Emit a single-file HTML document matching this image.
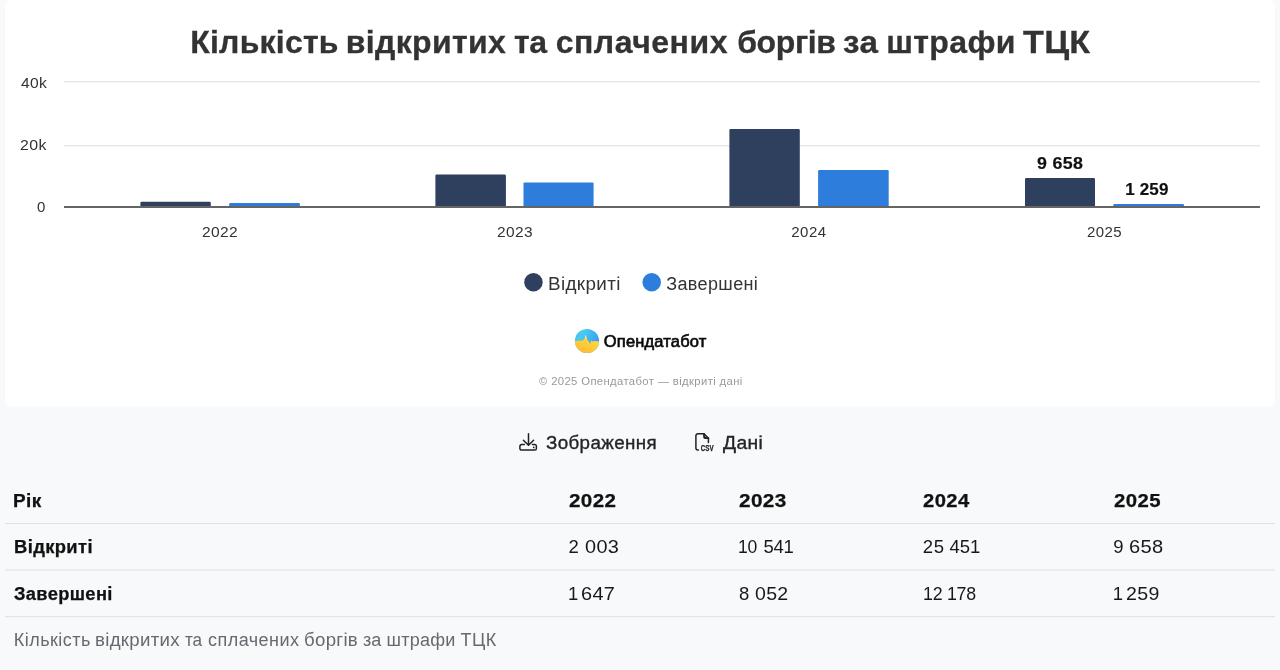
<!DOCTYPE html>
<html lang="uk">
<head>
<meta charset="utf-8">
<title>Кількість відкритих та сплачених боргів за штрафи ТЦК</title>
<style>
*{box-sizing:border-box;margin:0;padding:0}
html,body{width:1280px;height:670px;overflow:hidden}
body{background:#f8f9fa;font-family:"Liberation Sans",Arial,sans-serif;color:#222;position:relative}
.side{position:absolute;top:0;height:401px;width:7px;background:#f9f9f9}
.card{position:absolute;left:5px;top:0;width:1270px;height:407px;background:#fff;border-radius:6px;border-bottom:1px solid #fbfcfd}
.t{position:absolute;white-space:nowrap;line-height:1}
.ws{width:1280px;height:1em}
.ws span{position:absolute;top:0}
.title{font-size:32px;font-weight:700;color:#333;-webkit-text-stroke:0.3px #333}
.grid{position:absolute;left:64px;width:1196px;height:2px;background:linear-gradient(#e7e7e7 0 50%,#f4f4f4 50% 100%)}
.axis{position:absolute;left:64px;width:1196px;height:2px;background:#656565;top:206px}
.yl,.xl{font-size:15px;color:#333}
.bar{position:absolute;border-radius:1.5px 1.5px 0 0}
.d{background:#2f3f5e}
.b{background:#2d7edc}
.dl{font-size:17px;font-weight:700;color:#111;-webkit-text-stroke:0.2px #111}
.lg{font-size:18px;color:#333}
.dot{position:absolute;width:18px;height:18px;border-radius:50%}
.brand{font-size:16.5px;font-weight:400;color:#0a0a0a;-webkit-text-stroke:0.65px #0a0a0a}
.copy{font-size:11px;color:#999}
.btn{font-size:18px;color:#212529;-webkit-text-stroke:0.35px #212529}
.th{font-size:18px;font-weight:700;color:#111;-webkit-text-stroke:0.25px #111}
.td{font-size:18.5px;color:#16181b}
.hr{position:absolute;left:5px;width:1270px;height:1px;background:#dee1e5}
.hr2{position:absolute;left:5px;width:1270px;height:2px}
.cap{font-size:18px;color:#646a70}
svg{position:absolute;overflow:visible}
</style>
</head>
<body>
<div class="side" style="left:0"></div>
<div class="side" style="right:0"></div>
<div class="card"></div>

<div class="grid" style="top:81px"></div>
<div class="grid" style="top:145px"></div>

<svg width="1280" height="210" viewBox="0 0 1280 210" style="left:0;top:0">
<path fill="#2f3f5e" d="M140.4 207 V203.0 A1.2 1.2 0 0 1 141.6 201.8 H209.6 A1.2 1.2 0 0 1 210.8 203.0 V207 Z"/>
<path fill="#2d7edc" d="M229.2 207 V204.2 A1.2 1.2 0 0 1 230.4 203.0 H298.7 A1.2 1.2 0 0 1 299.9 204.2 V207 Z"/>
<path fill="#2f3f5e" d="M435.4 207 V175.7 A1.2 1.2 0 0 1 436.6 174.5 H504.7 A1.2 1.2 0 0 1 505.9 175.7 V207 Z"/>
<path fill="#2d7edc" d="M523.5 207 V183.6 A1.2 1.2 0 0 1 524.7 182.4 H592.4 A1.2 1.2 0 0 1 593.6 183.6 V207 Z"/>
<path fill="#2f3f5e" d="M729.4 207 V130.1 A1.2 1.2 0 0 1 730.6 128.9 H798.6 A1.2 1.2 0 0 1 799.8 130.1 V207 Z"/>
<path fill="#2d7edc" d="M818.1 207 V171.2 A1.2 1.2 0 0 1 819.3 170.0 H887.5 A1.2 1.2 0 0 1 888.7 171.2 V207 Z"/>
<path fill="#2f3f5e" d="M1025.0 207 V179.1 A1.2 1.2 0 0 1 1026.2 177.9 H1093.8 A1.2 1.2 0 0 1 1095.0 179.1 V207 Z"/>
<path fill="#2d7edc" d="M1113.3 207 V205.2 A1.2 1.2 0 0 1 1114.5 204.0 H1182.8 A1.2 1.2 0 0 1 1184.0 205.2 V207 Z"/>
</svg>
<div class="axis"></div>

<svg width="160" height="24" viewBox="0 0 160 24" style="left:520px;top:270px"><circle cx="13.45" cy="12.3" r="9.25" fill="#2f3f5e"/><circle cx="131.7" cy="12.3" r="9.25" fill="#2d7edc"/></svg>

<svg width="26" height="26" viewBox="0 0 26 26" style="left:574.2px;top:327.6px">
  <defs>
    <clipPath id="lc"><circle cx="13" cy="13" r="12.1"/></clipPath>
    <linearGradient id="sky" x1="0" y1="0" x2="1" y2="0.5"><stop offset="0" stop-color="#3fb6f2"/><stop offset="0.35" stop-color="#46ccf2"/><stop offset="1" stop-color="#3a98f0"/></linearGradient>
    <linearGradient id="sun" x1="0.2" y1="1" x2="0.8" y2="0"><stop offset="0" stop-color="#ffb534"/><stop offset="0.6" stop-color="#ffd038"/><stop offset="1" stop-color="#ffe24a"/></linearGradient>
    <linearGradient id="tip" x1="0" y1="0" x2="0" y2="1"><stop offset="0" stop-color="#fff6c8"/><stop offset="1" stop-color="#ffd038"/></linearGradient>
  </defs>
  <g clip-path="url(#lc)">
    <rect width="26" height="26" fill="url(#sky)"/>
    <path d="M0 12.7 L8.4 12.7 L9.5 11.4 L10.3 12 L11.6 6.8 L13 11.6 L14.2 12.6 L16 15.8 L17.4 12.6 L19 13.6 L21 13 L26 13.4 L26 26 L0 26 Z" fill="url(#sun)"/>
    <path d="M10.3 12 L11.6 6.8 L13 11.6 Z" fill="url(#tip)"/>
  </g>
</svg>

<svg width="20" height="20" viewBox="0 0 20 20" style="left:518px;top:432px" fill="none" stroke="#222" stroke-width="1.5" stroke-linecap="round" stroke-linejoin="round">
  <path d="M10.5 1.7 V13 M5.4 8.2 L10.5 13.3 L15.6 8.2"/>
  <path d="M6.3 12.6 H3.6 A1.7 1.7 0 0 0 1.9 14.3 V16.4 A1.7 1.7 0 0 0 3.6 18.1 H16.7 A1.7 1.7 0 0 0 18.4 16.4 V14.3 A1.7 1.7 0 0 0 16.7 12.6 H14.4"/>
  <circle cx="15.7" cy="15.4" r="0.85" fill="#222" stroke="none"/>
</svg>

<svg width="22" height="20" viewBox="0 0 22 20" style="left:694px;top:432px" fill="none" stroke="#222" stroke-width="1.5" stroke-linecap="round" stroke-linejoin="round">
  <path d="M4.4 18 H3.9 A2 2 0 0 1 1.9 16 V3.8 A2 2 0 0 1 3.9 1.8 H10 L14.4 6.2 V10.6"/>
  <path d="M10 1.8 V4.9 A1.3 1.3 0 0 0 11.3 6.2 H14.4" stroke-width="1.7"/><path d="M10 3.2 V4.9 A1.3 1.3 0 0 0 11.3 6.2 H13 Z" fill="#222" stroke="none"/>
  <text x="6.8" y="18.75" font-family="Liberation Sans, Arial, sans-serif" font-size="8.3" font-weight="700" fill="#222" stroke="#222" stroke-width="0.25" textLength="12.8" lengthAdjust="spacingAndGlyphs">CSV</text>
</svg>

<div class="hr" style="top:523px"></div>
<div class="hr2" style="top:569px;background:#ebecef"></div>
<div class="hr2" style="top:616px;background:linear-gradient(#e3e4e7 0 50%,#f1f2f4 50% 100%)"></div>

<div class="t ws title" style="left:0;top:26.01px;"><span style="left:190.25px;letter-spacing:0.219px;">Кількість</span> <span style="left:345.85px;letter-spacing:0.344px;">відкритих</span> <span style="left:514.00px;letter-spacing:-0.450px;">та</span> <span style="left:555.65px;letter-spacing:0.525px;">сплачених</span> <span style="left:737.25px;letter-spacing:-0.400px;">боргів</span> <span style="left:843.32px;letter-spacing:0.300px;transform:scaleX(1.0378);transform-origin:0 0;">за</span> <span style="left:886.15px;letter-spacing:0.400px;">штрафи</span> <span style="left:1022.53px;letter-spacing:0.300px;transform:scaleX(1.0652);transform-origin:0 0;">ТЦК</span></div>
<div class="t ws cap" style="left:0;top:631.36px;"><span style="left:13.75px;letter-spacing:0.469px;">Кількість</span> <span style="left:94.71px;letter-spacing:0.300px;transform:scaleX(1.0356);transform-origin:0 0;">відкритих</span> <span style="left:185.36px;letter-spacing:-0.300px;transform:scaleX(0.9542);transform-origin:0 0;">та</span> <span style="left:208.00px;letter-spacing:0.469px;">сплачених</span> <span style="left:304.22px;letter-spacing:0.300px;transform:scaleX(1.0348);transform-origin:0 0;">боргів</span> <span style="left:363.00px;">за</span> <span style="left:386.50px;letter-spacing:0.250px;">штрафи</span> <span style="left:460.50px;letter-spacing:0.450px;">ТЦК</span></div>
<div class="t ws td" style="left:0;top:538.04px;"><span style="left:568.60px;">2</span> <span style="left:584.69px;letter-spacing:0.300px;transform:scaleX(1.0754);transform-origin:0 0;">003</span></div>
<div class="t ws td" style="left:0;top:538.04px;"><span style="left:738.37px;letter-spacing:-0.300px;transform:scaleX(0.9505);transform-origin:0 0;">10</span> <span style="left:763.45px;letter-spacing:-0.225px;">541</span></div>
<div class="t ws td" style="left:0;top:538.04px;"><span style="left:922.80px;letter-spacing:0.550px;">25</span> <span style="left:949.50px;">451</span></div>
<div class="t ws td" style="left:0;top:538.04px;"><span style="left:1113.35px;">9</span> <span style="left:1129.32px;letter-spacing:0.300px;transform:scaleX(1.0845);transform-origin:0 0;">658</span></div>
<div class="t ws td" style="left:0;top:584.54px;"><span style="left:568.10px;">1</span> <span style="left:581.32px;letter-spacing:0.300px;transform:scaleX(1.0777);transform-origin:0 0;">647</span></div>
<div class="t ws td" style="left:0;top:584.54px;"><span style="left:739.05px;">8</span> <span style="left:755.31px;letter-spacing:0.300px;transform:scaleX(1.0553);transform-origin:0 0;">052</span></div>
<div class="t ws td" style="left:0;top:584.54px;"><span style="left:923.15px;letter-spacing:-0.300px;transform:scaleX(0.9638);transform-origin:0 0;">12</span> <span style="left:947.16px;letter-spacing:-0.300px;transform:scaleX(0.9606);transform-origin:0 0;">178</span></div>
<div class="t ws td" style="left:0;top:584.54px;"><span style="left:1112.70px;">1</span> <span style="left:1125.84px;letter-spacing:0.300px;transform:scaleX(1.0574);transform-origin:0 0;">259</span></div>
<div class="t yl" style="left:20.64px;top:75.30px;letter-spacing:0.350px;transform:scaleX(1.0405);transform-origin:0 0;">40k</div>
<div class="t yl" style="left:20.10px;top:137.20px;letter-spacing:0.350px;transform:scaleX(1.0620);transform-origin:0 0;">20k</div>
<div class="t yl" style="left:36.90px;top:199.20px;">0</div>
<div class="t xl" style="left:202.22px;top:224.10px;letter-spacing:0.350px;transform:scaleX(1.0366);transform-origin:0 0;">2022</div>
<div class="t xl" style="left:496.83px;top:224.10px;letter-spacing:0.350px;transform:scaleX(1.0318);transform-origin:0 0;">2023</div>
<div class="t xl" style="left:791.25px;top:224.10px;letter-spacing:0.483px;">2024</div>
<div class="t xl" style="left:1087.05px;top:224.10px;letter-spacing:0.400px;">2025</div>
<div class="t dl" style="left:1036.98px;top:154.61px;letter-spacing:0.350px;transform:scaleX(1.0466);transform-origin:0 0;">9 658</div>
<div class="t dl" style="left:1125.30px;top:180.61px;letter-spacing:0.125px;">1 259</div>
<div class="t lg" style="left:547.93px;top:275.16px;letter-spacing:0.350px;transform:scaleX(1.0459);transform-origin:0 0;">Відкриті</div>
<div class="t lg" style="left:666.25px;top:275.16px;letter-spacing:0.369px;">Завершені</div>
<div class="t brand" style="left:603.85px;top:332.63px;letter-spacing:0.155px;">Опендатабот</div>
<div class="t copy" style="left:539.24px;top:375.99px;letter-spacing:0.350px;transform:scaleX(1.0266);transform-origin:0 0;">© 2025 Опендатабот — відкриті дані</div>
<div class="t btn" style="left:546.42px;top:433.76px;letter-spacing:0.350px;transform:scaleX(1.0427);transform-origin:0 0;">Зображення</div>
<div class="t btn" style="left:722.70px;top:433.76px;letter-spacing:0.350px;transform:scaleX(1.0707);transform-origin:0 0;">Дані</div>
<div class="t th" style="left:13.48px;top:491.56px;letter-spacing:0.350px;transform:scaleX(1.0530);transform-origin:0 0;">Рік</div>
<div class="t th" style="left:569.03px;top:491.56px;letter-spacing:0.350px;transform:scaleX(1.1432);transform-origin:0 0;">2022</div>
<div class="t th" style="left:738.82px;top:491.56px;letter-spacing:0.350px;transform:scaleX(1.1511);transform-origin:0 0;">2023</div>
<div class="t th" style="left:923.24px;top:491.56px;letter-spacing:0.350px;transform:scaleX(1.1221);transform-origin:0 0;">2024</div>
<div class="t th" style="left:1113.53px;top:491.56px;letter-spacing:0.350px;transform:scaleX(1.1311);transform-origin:0 0;">2025</div>
<div class="t th" style="left:13.52px;top:538.46px;letter-spacing:0.350px;transform:scaleX(1.0229);transform-origin:0 0;">Відкриті</div>
<div class="t th" style="left:14.29px;top:584.96px;letter-spacing:0.350px;transform:scaleX(1.0163);transform-origin:0 0;">Завершені</div>
</body>
</html>
